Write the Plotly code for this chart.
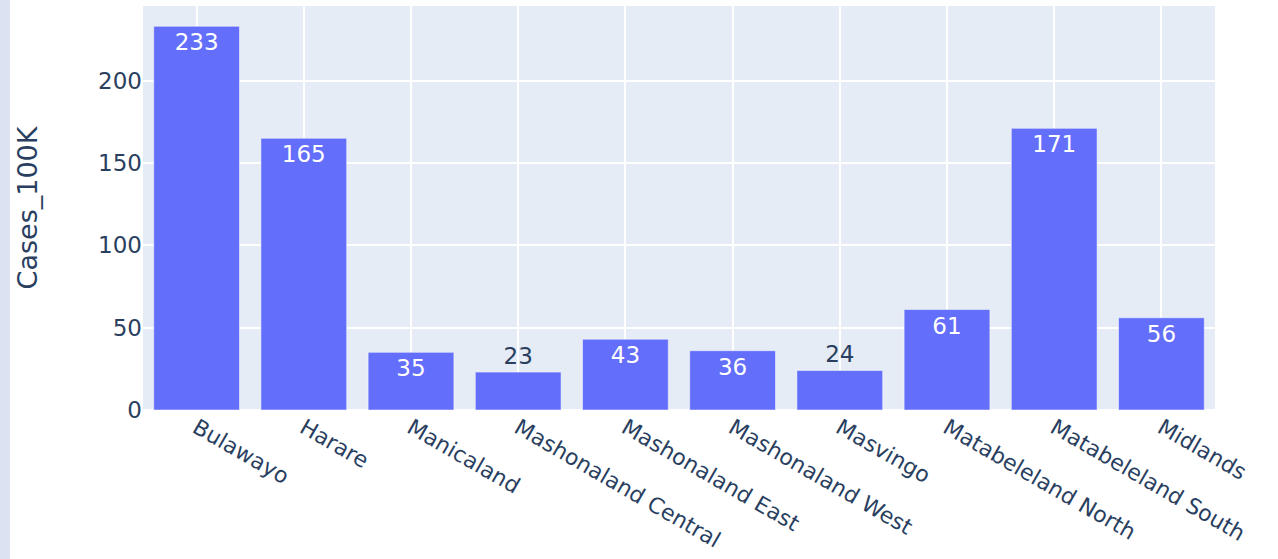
import plotly.graph_objects as go

provinces = ["Bulawayo", "Harare", "Manicaland", "Mashonaland Central", "Mashonaland East",
             "Mashonaland West", "Masvingo", "Matabeleland North", "Matabeleland South", "Midlands"]
cases_100k = [233, 165, 35, 23, 43, 36, 24, 61, 171, 56]

FONT = "DejaVu Sans"

# small bars cannot hold their label in the reference, so it sits above them
text_pos = ["outside" if v < 30 else "inside" for v in cases_100k]

fig = go.Figure(go.Bar(
    x=provinces,
    y=cases_100k,
    text=cases_100k,
    textposition=text_pos,
    insidetextanchor="end",
    marker_color="#636efa",
    textfont=dict(family=FONT, size=23),
    cliponaxis=False,
))

plot_l, plot_r, plot_t, plot_b = 143, 1215, 6, 410
W, H = 1278, 559
pw = plot_r - plot_l

fig.update_layout(
    template="plotly_white",
    width=W, height=H, autosize=False,
    margin=dict(l=plot_l, r=W - plot_r, t=plot_t, b=H - plot_b, pad=0, autoexpand=False),
    plot_bgcolor="#e5ecf6",
    paper_bgcolor="white",
    font=dict(family=FONT, size=22, color="#2a3f5f"),
    showlegend=False,
    shapes=[dict(type="rect", xref="paper", yref="paper",
                 x0=-plot_l / pw, x1=(10 - plot_l) / pw, y0=-2, y1=2,
                 fillcolor="#dbe3f3", line_width=0, layer="below")],
)
fig.update_xaxes(tickangle=30, showgrid=True, gridcolor="white", gridwidth=2,
                 tickfont=dict(family=FONT, size=22), ticks="", zeroline=False,
                 automargin=False)
fig.update_yaxes(title=dict(text="Cases_100K", font=dict(family=FONT, size=27), standoff=52),
                 range=[0, 245.3], automargin=False,
                 showgrid=True, gridcolor="white", gridwidth=2, zeroline=True,
                 zerolinecolor="white", zerolinewidth=2, ticks="",
                 tickfont=dict(family=FONT, size=23))

fig.write_html("out.html", post_script="document.body.style.margin='0';",
               config={"displayModeBar": False})
